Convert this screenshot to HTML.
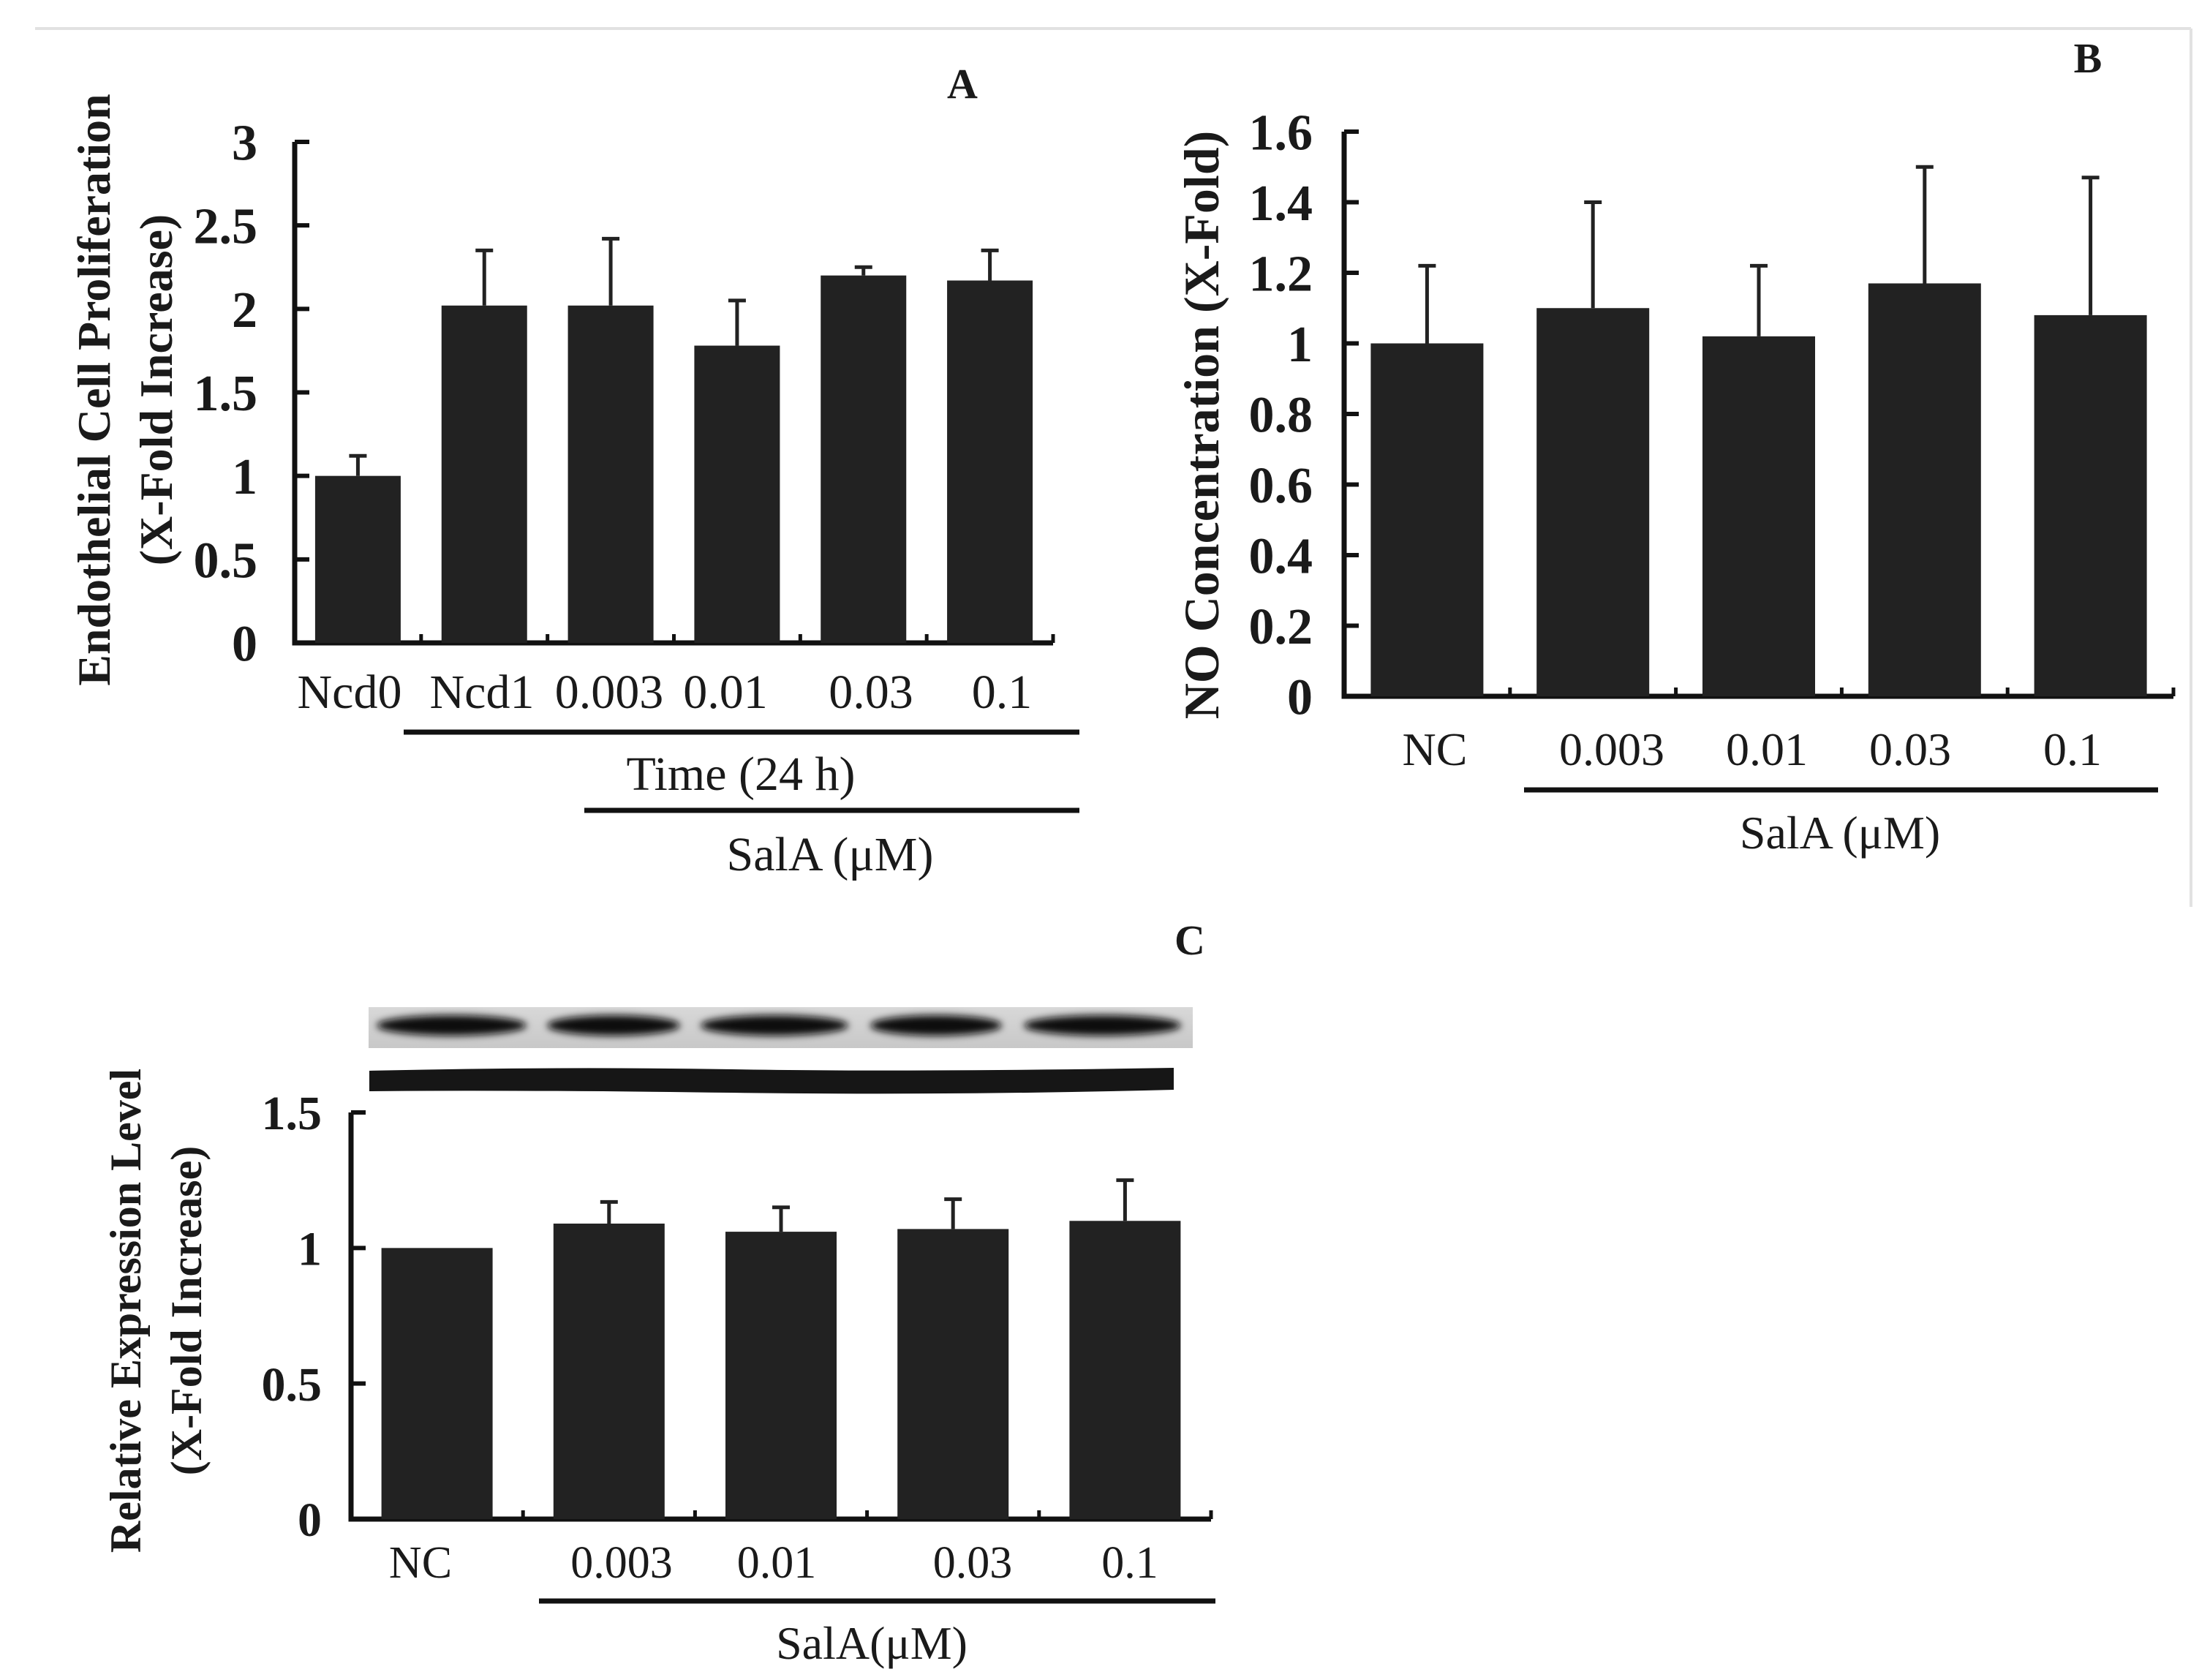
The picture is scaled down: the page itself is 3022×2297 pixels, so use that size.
<!DOCTYPE html>
<html><head><meta charset="utf-8"><style>
html,body{margin:0;padding:0;background:#fff;overflow:hidden}
svg{display:block}
text{font-family:"Liberation Serif",serif;fill:#1a1a1a}
.b{font-weight:bold}
</style></head><body>
<svg id="fig" width="3022" height="2297" viewBox="0 0 3022 2297" xmlns="http://www.w3.org/2000/svg">
<defs>
<linearGradient id="blotbg" x1="0" y1="0" x2="0" y2="1"><stop offset="0" stop-color="#d8d8d8"/><stop offset="1" stop-color="#c8c8c8"/></linearGradient>
<filter id="blur" x="-10%" y="-50%" width="120%" height="200%"><feGaussianBlur stdDeviation="5"/></filter>
</defs>
<line x1="48" y1="39" x2="2996" y2="39" stroke="#e2e2e2" stroke-width="4"/>
<line x1="2996" y1="39" x2="2996" y2="1240" stroke="#e2e2e2" stroke-width="4"/>
<g id="panelA"></g>
<g id="panelB"></g>
<g id="panelC"></g>
</svg>
<script>
// Panel A data
const catsA = ["Ncd0","Ncd1","0.003","0.01","0.03","0.1"];
const valsA = [1.0, 2.02, 2.02, 1.78, 2.2, 2.17];
const errA = [1.12, 2.35, 2.42, 2.05, 2.25, 2.35];
const ticksA = ["0","0.5","1","1.5","2","2.5","3"];
// Panel B data
const catsB = ["NC","0.003","0.01","0.03","0.1"];
const valsB = [1.0, 1.1, 1.02, 1.17, 1.08];
const errB = [1.22, 1.4, 1.22, 1.5, 1.47];
const ticksB = ["0","0.2","0.4","0.6","0.8","1","1.2","1.4","1.6"];
// Panel C data
const catsC = ["NC","0.003","0.01","0.03","0.1"];
const valsC = [1.0, 1.09, 1.06, 1.07, 1.1];
const errC = [null, 1.17, 1.15, 1.18, 1.25];
const ticksC = ["0","0.5","1","1.5"];

const NS = "http://www.w3.org/2000/svg";
function mk(parent, tag, attrs, txt){
  const e = document.createElementNS(NS, tag);
  for (const k in attrs) e.setAttribute(k, attrs[k]);
  if (txt !== undefined) e.textContent = txt;
  parent.appendChild(e);
  return e;
}

function drawChart(g, cfg){
  const y = v => cfg.y0 - v / cfg.ymax * (cfg.y0 - cfg.ytop);
  const ax = mk(g, "path", {d:`M${cfg.x0} ${cfg.ytop} V${cfg.y0} H${cfg.xend}`, fill:"none", stroke:"#111", "stroke-width":7});
  
  
  cfg.ticks.forEach(t => {
    const v = parseFloat(t);
    const tk = mk(g, "line", {x1:cfg.x0, x2:cfg.x0+20, y1:y(v), y2:y(v), stroke:"#111", "stroke-width":6});
    
    
    const tl = mk(g, "text", {x:cfg.tickX, y:y(v)+cfg.tickFs*0.35, "text-anchor":"end", "font-size":cfg.tickFs, class:"b"}, t);
    
    
  });
  const n = cfg.cats.length;
  const step = (cfg.xend - cfg.x0) / n;
  for (let i=1;i<=n;i++){
    const xx = cfg.x0 + step*i;
    const tk = mk(g, "line", {x1:xx, x2:xx, y1:cfg.y0, y2:cfg.y0-12, stroke:"#111", "stroke-width":5});
    
    
  }
  cfg.cats.forEach((c,i) => {
    const cx = cfg.x0 + step*(i+0.5);
    if (cfg.err[i] !== null){
      const eb = mk(g, "path", {d:`M${cx} ${y(cfg.vals[i])} V${y(cfg.err[i])} M${cx-12} ${y(cfg.err[i])} H${cx+12}`, stroke:"#222", "stroke-width":5, fill:"none"});
      
      
    }
    const r = mk(g, "rect", {x:cx-cfg.bw/2, y:y(cfg.vals[i]), width:cfg.bw, height:cfg.y0-y(cfg.vals[i]), fill:"#222"});
    
    
    const lx = cfg.labelX ? cfg.labelX[i] : cx;
    const t = mk(g, "text", {x:lx, y:cfg.labelY, "text-anchor":"middle", "font-size":cfg.catFs}, c);
    
    
  });
}

drawChart(document.getElementById("panelA"), {x0:403, xend:1440, ytop:194, y0:879, ymax:3, ticks:ticksA, tickX:352, tickFs:70,
  cats:catsA, vals:valsA, err:errA, bw:117, labelY:968, catFs:66, labelX:[478,659,833,992,1191,1370]});
drawChart(document.getElementById("panelB"), {x0:1838, xend:2972, ytop:180, y0:952, ymax:1.6, ticks:ticksB, tickX:1795, tickFs:70,
  cats:catsB, vals:valsB, err:errB, bw:154, labelY:1046, catFs:64, labelX:[1962,2204,2416,2612,2834]});
drawChart(document.getElementById("panelC"), {x0:480, xend:1656, ytop:1521, y0:2077, ymax:1.5, ticks:ticksC, tickX:440, tickFs:66,
  cats:catsC, vals:valsC, err:errC, bw:152, labelY:2157, catFs:62, labelX:[575,850,1062,1330,1545]});
</script>
<script>
(function(){
const svg = document.getElementById("fig");
const NS="http://www.w3.org/2000/svg";
function t(x,y,fs,txt,name,opts){
  const e = document.createElementNS(NS,"text");
  e.setAttribute("x",x); e.setAttribute("y",y); e.setAttribute("font-size",fs);
  e.setAttribute("text-anchor","middle");
  if (opts && opts.bold) e.setAttribute("class","b");
  if (opts && opts.rot) e.setAttribute("transform",`rotate(-90 ${x} ${y})`);
  e.textContent = txt;
  
  
  svg.appendChild(e); return e;
}
function l(x1,y1,x2,y2,name){
  const e = document.createElementNS(NS,"line");
  e.setAttribute("x1",x1);e.setAttribute("y1",y1);e.setAttribute("x2",x2);e.setAttribute("y2",y2);
  e.setAttribute("stroke","#111");e.setAttribute("stroke-width",7);
  
  
  svg.appendChild(e);
}
// Panel A
t(1316,134,58,"A","panel-a-label",{bold:true});
t(150,533,64,"Endothelial Cell Proliferation","panel-a-y-title",{bold:true,rot:true});
t(235,533,64,"(X-Fold Increase)","panel-a-y-subtitle",{bold:true,rot:true});
l(552,1001,1476,1001,"time-bracket-line");
t(1013,1080,66,"Time (24 h)","time-label");
l(799,1108,1476,1108,"sala-bracket-line-a");
t(1135,1190,66,"SalA (μM)","panel-a-x-title");
// Panel B
t(2855,99,58,"B","panel-b-label",{bold:true});
t(1666,581,68,"NO Concentration (X-Fold)","panel-b-y-title",{bold:true,rot:true});
l(2084,1080,2951,1080,"sala-bracket-line-b");
t(2516,1160,64,"SalA (μM)","panel-b-x-title");
// Panel C
t(1627,1305,58,"C","panel-c-label",{bold:true});
t(192,1792,60,"Relative Expression Level","panel-c-y-title",{bold:true,rot:true});
t(275,1792,60,"(X-Fold Increase)","panel-c-y-subtitle",{bold:true,rot:true});
l(737,2189,1662,2189,"sala-bracket-line-c");
t(1192,2268,64,"SalA(μM)","panel-c-x-title");
// Western blot
const g = document.createElementNS(NS,"g");


svg.appendChild(g);
const bg = document.createElementNS(NS,"rect");
bg.setAttribute("x",504);bg.setAttribute("y",1377);bg.setAttribute("width",1127);bg.setAttribute("height",56);bg.setAttribute("fill","url(#blotbg)");
g.appendChild(bg);
const lanes=[[515,720],[748,930],[958,1160],[1190,1370],[1400,1615]];
lanes.forEach(([a,b])=>{
  const e=document.createElementNS(NS,"ellipse");
  e.setAttribute("cx",(a+b)/2);e.setAttribute("cy",1402);e.setAttribute("rx",(b-a)/2);e.setAttribute("ry",14);
  e.setAttribute("fill","#111");e.setAttribute("filter","url(#blur)");
  g.appendChild(e);
});
const b2=document.createElementNS(NS,"path");
b2.setAttribute("d","M505 1464 Q760 1458 1000 1462 T1605 1460 L1605 1490 Q1300 1498 1000 1494 T505 1492 Z");
b2.setAttribute("fill","#161616");


g.appendChild(b2);
})();
</script>
</body></html>
